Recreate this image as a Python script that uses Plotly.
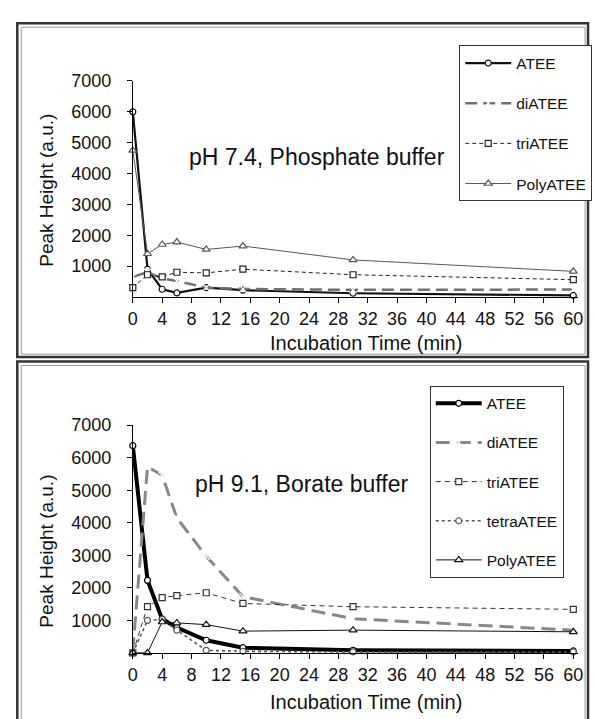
import plotly.graph_objects as go

# ---------------- data ----------------
time_min = [0, 2, 4, 6, 10, 15, 30, 60]

# pH 7.4, Phosphate buffer
p74_ATEE = [6000, 900, 250, 130, 300, 220, 120, 50]
p74_diATEE = [650, 800, 600, 520, 300, 260, 230, 240]
p74_triATEE = [300, 720, 650, 800, 780, 900, 720, 560]
p74_PolyATEE = [4750, 1400, 1700, 1780, 1540, 1650, 1200, 830]

# pH 9.1, Borate buffer
p91_ATEE = [6370, 2230, 1040, 780, 390, 160, 80, 60]
p91_diATEE = [50, 5720, 5460, 4150, 2970, 1730, 1050, 700]
p91_triATEE = [0, 1420, 1700, 1760, 1850, 1520, 1420, 1340]
p91_tetraATEE = [0, 1000, 1030, 700, 80, 50, 30, 30]
p91_PolyATEE = [0, 0, 950, 920, 870, 670, 700, 650]

x_ticks = [0, 4, 8, 12, 16, 20, 24, 28, 32, 36, 40, 44, 48, 52, 56, 60]
y_ticks = [1000, 2000, 3000, 4000, 5000, 6000, 7000]

W, H = 595, 719
FONT = "Liberation Sans, Arial, sans-serif"


def fx(px):
    return px / W


def fy(py):
    return 1 - py / H


fig = go.Figure()


def add(xs, ys, name, color, width, dash, symbol, xa, ya, legend, msize=7):
    fig.add_trace(go.Scatter(
        x=xs, y=ys, name=name, mode="lines+markers",
        line=dict(color=color, width=width, dash=dash),
        marker=dict(symbol=symbol, size=msize, color="white",
                    line=dict(color=color, width=1.2)),
        xaxis=xa, yaxis=ya, legend=legend, legendgroup=legend + name,
        cliponaxis=False,
    ))


# top panel
add(time_min, p74_ATEE, "ATEE", "#111111", 2.2, "solid", "circle", "x", "y", "legend", 6)
add(time_min, p74_diATEE, "diATEE", "#707070", 2.5, "12px,6px", "x-thin-open", "x", "y", "legend")
add(time_min, p74_triATEE, "triATEE", "#222222", 1, "4px,3px", "square", "x", "y", "legend", 6)
add(time_min, p74_PolyATEE, "PolyATEE", "#555555", 1, "solid", "triangle-up", "x", "y", "legend")

# bottom panel
add(time_min, p91_ATEE, "ATEE", "#000000", 4, "solid", "circle", "x2", "y2", "legend2", 6)
add(time_min, p91_diATEE, "diATEE", "#888888", 3, "14px,7px", "x-thin-open", "x2", "y2", "legend2")
add(time_min, p91_triATEE, "triATEE", "#333333", 1, "5px,4px", "square", "x2", "y2", "legend2", 6)
add(time_min, p91_tetraATEE, "tetraATEE", "#555555", 1.6, "dot", "circle", "x2", "y2", "legend2", 6)
add(time_min, p91_PolyATEE, "PolyATEE", "#111111", 1, "solid", "triangle-up", "x2", "y2", "legend2")

xr = [0, 60.67]
xdom = [fx(130), fx(583)]

axis_common = dict(
    showline=True, linecolor="black", linewidth=1, showgrid=False,
    zeroline=False, ticks="outside", ticklen=5, tickcolor="black",
    tickfont=dict(family=FONT, size=18, color="#111111"),
)

legend_common = dict(
    xanchor="left", yanchor="top", bordercolor="#333333", borderwidth=1,
    bgcolor="white", font=dict(family=FONT, size=15.5, color="#111111"),
    traceorder="grouped", itemwidth=46,
)

fig.update_layout(
    width=W, height=H,
    margin=dict(l=0, r=0, t=0, b=0),
    paper_bgcolor="white", plot_bgcolor="white",
    font=dict(family=FONT, color="#111111"),
    xaxis=dict(domain=xdom, range=xr, anchor="y", tickvals=x_ticks, **axis_common),
    yaxis=dict(domain=[fy(291), fy(72)], range=[0, 7000], anchor="x",
               tickvals=y_ticks, ticklabelstandoff=12, **axis_common),
    xaxis2=dict(domain=xdom, range=xr, anchor="y2", tickvals=x_ticks, **axis_common),
    yaxis2=dict(domain=[fy(652), fy(421)], range=[0, 7000], anchor="x2",
                tickvals=y_ticks, ticklabelstandoff=12, **axis_common),
    legend=dict(x=fx(462), y=fy(36), tracegroupgap=17, **legend_common),
    legend2=dict(x=fx(432), y=fy(381), tracegroupgap=16, **legend_common),
    showlegend=True,
)

# text annotations
ann = [
    dict(text="pH 7.4, Phosphate buffer", x=fx(317), y=fy(149), size=23, angle=0),
    dict(text="pH 9.1, Borate buffer", x=fx(302), y=fy(481), size=23, angle=0),
    dict(text="Peak Height (a.u.)", x=fx(42), y=fy(183), size=19, angle=-90),
    dict(text="Peak Height (a.u.)", x=fx(42), y=fy(549), size=19, angle=-90),
    dict(text="Incubation Time (min)", x=fx(367), y=fy(338), size=20, angle=0),
    dict(text="Incubation Time (min)", x=fx(367), y=fy(702), size=20, angle=0),
]
for a in ann:
    fig.add_annotation(text=a["text"], x=a["x"], y=a["y"], xref="paper", yref="paper",
                       xanchor="center", yanchor="middle", showarrow=False,
                       textangle=a["angle"],
                       font=dict(family=FONT, size=a["size"], color="#111111"))


# panel frames (double border)
def frame(x0, y0, x1, y1):
    fig.add_shape(type="rect", xref="paper", yref="paper",
                  x0=fx(x0), x1=fx(x1), y0=fy(y1), y1=fy(y0),
                  line=dict(color="#333333", width=2.5), layer="below")
    fig.add_shape(type="rect", xref="paper", yref="paper",
                  x0=fx(x0 + 4), x1=fx(x1 - 3), y0=fy(y1 - 3), y1=fy(y0 + 4),
                  line=dict(color="#9a9a9a", width=1), layer="below")


frame(12.5, 13.5, 593, 352)
frame(12.5, 356.5, 593, 730)

fig.write_html("out.html")
